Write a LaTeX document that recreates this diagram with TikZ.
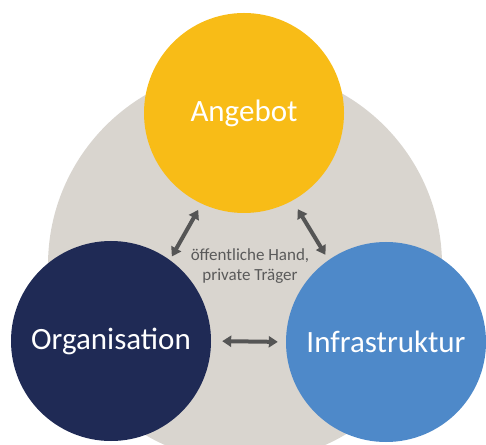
\documentclass[tikz,border=0pt]{standalone}
\usepackage{fontspec}
\setmainfont{Carlito}
\usetikzlibrary{arrows.meta}
\definecolor{bgdisc}{HTML}{D9D5CF}
\definecolor{offeryellow}{HTML}{F8BC17}
\definecolor{orgnavy}{HTML}{1F2A55}
\definecolor{infrablue}{HTML}{4E89C9}
\definecolor{arrowgray}{HTML}{555555}
\definecolor{notegray}{HTML}{5A5A5A}
\tikzset{
  x=1pt, y=1pt,
  disc/.style={circle, minimum size=200pt, inner sep=0pt, text=white,
               font=\fontsize{31}{36}\selectfont},
  link/.style={draw=arrowgray, line width=4pt,
               {Triangle[width=11pt,length=9pt]}-{Triangle[width=11pt,length=9pt]}},
  note/.style={align=center, text=notegray, font=\fontsize{17}{20}\selectfont}
}
\begin{document}
\begin{tikzpicture}
  \useasboundingbox (0,0) rectangle (486,444);
  \clip (0,0) rectangle (486,444);
  % background disc
  \node[circle, fill=bgdisc, minimum size=394pt, inner sep=0pt] (bg) at (245,179) {};
  % the three pillars
  \node[disc, fill=offeryellow] (offer) at (244,331) {Angebot};
  \node[disc, fill=orgnavy] (org) at (111,103) {Organisation};
  \node[disc, fill=infrablue] (infra) at (386,102) {Infrastruktur};
  % centre label
  \node[note] (carrier) at (250,178) {öffentliche Hand,\\private Träger};
  % two-way links
  \draw[link, shorten <=7pt, shorten >=4pt] (offer.245) -- (org.54);
  \draw[link, shorten <=10pt, shorten >=6pt] (offer.299) -- (infra.125);
  \draw[link, shorten <=11pt, shorten >=8pt] (org.0) -- (infra.180);
\end{tikzpicture}
\end{document}
